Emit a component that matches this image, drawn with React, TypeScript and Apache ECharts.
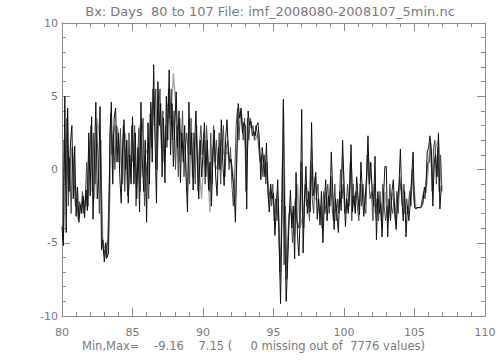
import React, { useEffect, useRef } from "react";
import * as echarts from "echarts";

const TITLE = "Bx: Days  80 to 107 File: imf_2008080-2008107_5min.nc";
const FOOTER = "Min,Max=    -9.16    7.15 (     0 missing out of  7776 values)";

const X_MIN = 80;
const X_MAX = 110;
const Y_MIN = -10;
const Y_MAX = 10;

// Black trace: samples every 0.1 day starting at day 80.0
const BLACK_START = 80.0;
const BLACK_STEP = 0.1;
const blackValues: number[] = [
  // 80
  -3.9, -5.2, 5.0, -4.3, 4.2, -1.5, 1.8, 3.0, -2.0, 1.6,
  // 81
  -3.2, -1.2, -3.6, -2.4, -3.0, -1.8, -3.3, -1.4, -2.8, 2.5,
  // 82
  -1.8, 3.6, -3.4, 0.5, 4.6, -2.0, -0.5, 4.3, -5.5, -4.8,
  // 83
  -6.3, -5.0, -6.0, -5.7, 2.3, 4.6, -1.0, 3.5, 4.2, 0.5,
  // 84
  2.5, -0.5, -2.3, 1.5, 3.4, 0.0, 2.0, -2.3, 1.0, -1.0,
  // 85
  3.6, -1.0, 2.5, -2.0, 1.5, -2.9, 4.6, 0.5, -1.5, 2.0,
  // 86
  -3.6, 3.2, -1.0, 4.6, 0.5, 7.15, 2.0, -2.3, 6.0, 3.0,
  // 87
  4.5, -0.5, 3.5, -0.9, 5.0, 2.0, 6.8, 1.0, 4.5, 0.2,
  // 88
  3.0, 5.3, 1.5, 4.0, -0.9, 2.5, 0.5, 3.0, -0.5, -2.9,
  // 89
  4.6, 1.0, 2.5, -1.4, 1.5, 4.0, 0.5, -2.0, 2.0, -0.5,
  // 90
  1.0, 3.2, -0.5, 2.0, -1.4, 0.5, -2.5, 1.0, 2.7, -0.5,
  // 91
  -1.8, 1.5, 0.0, 3.4, 0.5, -1.1, 2.0, 3.4, 1.2, 0.5,
  // 92
  0.7, -0.5, -1.4, -3.6, 1.0, 4.5, 3.5, 4.2, 2.5, 3.2,
  // 93
  3.0, -2.7, 4.0, 3.0, 3.3, 2.3, 2.6, 2.3, 3.0, 3.2,
  // 94
  2.0, -0.7, 1.5, 0.5, -0.5, 1.8, -1.5, -2.9, -1.0, -2.0,
  // 95
  -1.6, -4.5, -2.5, -0.7, -5.0, -9.16, -3.0, 4.8, -4.0, -9.0,
  // 96
  -6.5, -3.5, -1.4, -4.0, -2.5, -6.1, -0.2, -4.5, -5.9, -2.9,
  // 97
  4.1, -5.7, -2.0, 0.2, -3.0, -1.5, -2.9, 3.2, -1.8, -1.1,
  // 98
  -0.2, -3.4, -2.0, -3.8, -1.5, -5.0, -2.5, -0.7, -3.5, -1.8,
  // 99
  -2.5, 1.2, -1.5, -4.1, -2.0, -3.0, -4.3, -1.5, -2.8, 2.0,
  // 100
  -1.0, -3.9, -2.0, -3.0, -1.5, 1.7, -2.9, -1.8, -3.0, -0.5,
  // 101
  -2.0, -3.1, 0.5, -1.5, -3.2, -2.0, -0.5, 2.3, -1.0, 0.5,
  // 102
  -1.5, -2.5, 0.9, -4.8, -1.5, -3.0, -2.3, -4.6, -2.0, 0.2,
  // 103
  0.2, -4.6, -2.0, -3.5, -1.5, -0.7, -3.0, -4.1, -2.0, -1.0,
  // 104
  1.4, -2.0, -3.5, -1.5, -4.6, -2.5, -3.5, -2.3, -0.5, 1.2,
  // 105
  -2.6, -2.7, -2.6, -2.6, -2.6, -2.5, -2.3, -1.2, -1.6, 1.2,
  // 106
  1.5, 2.3, 1.2, -2.5, 0.5, 1.0, -0.5, 2.5, -2.7, -1.1,
];

// Dark-gray trace: samples every 0.1 day starting at day 80.05
const DARK_START = 80.05;
const DARK_STEP = 0.1;
const darkValues: number[] = [
  -4.8, 2.0, -1.0, 3.5, -2.5, 0.8, -3.0, 1.5, -0.5, -2.5,
  -2.0, -3.4, -2.2, -2.8, -1.5, -3.0, -2.0, 0.5, -2.5, 1.0,
  3.0, -1.5, 2.5, -1.0, 3.0, 1.0, -3.0, 2.0, -4.5, -5.8,
  -5.5, -6.1, -4.8, -1.0, 3.8, 1.0, 2.5, 0.0, 3.0, 2.8,
  0.5, 2.8, -1.0, 3.0, -1.5, 1.5, -1.8, 2.5, -0.5, 3.0,
  0.5, 3.0, -2.5, 0.5, 2.8, -1.5, 2.0, 3.5, -2.5, -0.5,
  0.5, -2.0, 3.8, 1.5, 5.5, 3.0, 5.5, 0.0, 4.0, 5.5,
  1.5, 4.0, 0.5, 3.0, 1.5, 5.5, 3.5, 5.5, 2.0, 4.0,
  0.0, 3.0, -0.5, 3.5, 1.5, 4.0, -0.5, 1.5, 2.5, 1.0,
  -1.0, 3.5, -0.5, 2.5, -1.0, 3.0, -1.5, 1.5, 3.0, 1.0,
  2.5, -1.0, 3.0, 1.0, -1.5, 2.5, -1.0, 3.0, 0.5, 2.0,
  0.0, 2.5, -1.0, 1.5, 3.0, -0.5, 1.5, 2.0, 0.0, 1.5,
  -1.0, -2.5, -0.5, 3.0, 4.2, 2.0, 3.8, 3.5, 2.0, 3.5,
  -1.5, 3.5, 2.0, 3.5, 2.8, 3.0, 2.0, 3.0, 2.5, 1.5,
  0.5, 1.0, -0.5, 1.0, -1.0, 0.5, -2.0, -1.5, -2.5, -1.0,
  -3.5, -2.0, -3.5, -2.0, -7.0, -5.0, 1.0, -6.5, -2.5, -7.5,
  -4.5, -2.5, -3.0, -5.0, -3.5, -2.0, -3.5, -4.0, -3.5, 0.5,
  -3.0, -4.0, -1.0, -2.5, -2.0, -3.5, 0.5, -2.0, -3.0, -0.5,
  -2.0, -1.0, -3.0, -2.5, -4.0, -1.5, -3.0, -2.0, -1.0, -3.0,
  -0.5, -2.5, -3.5, -1.0, -3.5, -2.0, -3.0, 0.0, -2.0, -1.0,
  -3.0, -2.5, -1.0, -2.5, 0.5, -3.5, -1.0, -2.5, -1.5, -2.5,
  -3.5, -1.0, -2.5, -1.0, -2.5, -3.0, 1.0, -0.5, -2.0, -1.5,
  -3.5, -1.0, -3.0, -2.0, -3.5, -1.5, -3.5, -1.0, -2.5, -3.5,
  -2.5, -3.5, -1.0, -2.5, -3.0, -2.0, -3.5, -1.5, -3.0, -0.5,
  -1.5, -2.5, -1.0, -3.0, -2.0, -3.0, -1.5, -2.5, 0.0, -2.0,
  -2.6, -2.6, -2.6, -2.6, -2.6, -2.0, -1.5, -2.0, -0.5, 0.5,
  0.5, 1.8, -1.5, 1.5, 2.0, -1.0, 1.5, -1.5, 1.0, -1.5,
];

// Light-gray trace: samples every 0.2 day starting at day 80.1
const GRAY_START = 80.1;
const GRAY_STEP = 0.2;
const grayValues: number[] = [
  -4.5, 0.5, -1.0, 1.5, -0.5,
  -2.5, -3.0, -2.0, -2.5, 1.0,
  2.5, -2.0, 3.5, 2.0, -5.0,
  -5.5, -4.5, 1.5, 3.0, 2.0,
  1.5, -1.0, 2.5, -1.5, 0.5,
  1.0, -1.0, 3.0, -0.5, 1.0,
  1.5, 3.5, 5.0, 0.5, 4.5,
  1.5, 1.0, 4.5, 3.0, 6.6,
  4.0, 0.5, 2.0, 1.5, -1.5,
  2.5, 0.0, 2.5, 0.5, -2.0,
  2.0, 0.5, -2.9, 1.5, 0.0,
  0.5, 2.0, 1.0, 1.2, 0.8,
  0.0, -2.0, 3.5, 4.0, 2.5,
  1.0, 3.0, 2.8, 2.0, 2.5,
  0.5, 1.0, -0.5, -1.5, -2.0,
  -3.0, -1.5, -7.5, 4.3, -7.0,
  -3.0, -3.0, -4.5, -1.0, -4.0,
  -3.0, -1.0, -2.0, 1.5, -2.0,
  -2.0, -3.0, -3.5, -1.5, -2.5,
  -0.5, -3.0, -2.5, -2.0, 1.0,
  -3.0, -2.5, 0.5, -2.0, -1.5,
  -2.5, -1.0, -2.5, 1.0, -0.5,
  -2.0, -3.5, -2.0, -3.5, -1.5,
  -3.5, -2.5, -1.5, -3.5, -1.5,
  -1.0, -3.0, -3.0, -1.5, -0.5,
  -2.6, -2.6, -2.6, -1.5, -0.9,
  1.8, -1.0, 1.5, 2.0, -1.5,
];

const AXIS_COLOR = "#8c8c8c";
const TEXT_COLOR = "#7a7a7a";
const FONT = "DejaVu Sans";

function toPairs(start: number, step: number, vals: number[]) {
  return vals.map((v, i) => [+(start + i * step).toFixed(3), v]);
}

export default function App() {
  const ref = useRef<HTMLDivElement>(null);
  useEffect(() => {
    if (!ref.current) return;
    const chart = echarts.init(ref.current, undefined, { renderer: "svg" });
    const tickCommon = {
      axisLine: { show: true, onZero: false, lineStyle: { color: AXIS_COLOR, width: 1 } },
      axisTick: { show: true, inside: true, length: 8, lineStyle: { color: AXIS_COLOR } },
      minorTick: { show: true, splitNumber: 5, length: 4, lineStyle: { color: AXIS_COLOR } },
      splitLine: { show: false },
      minorSplitLine: { show: false },
    };
    chart.setOption({
      animation: false,
      backgroundColor: "#ffffff",
      grid: { left: 62, right: 19, top: 23, bottom: 44, containLabel: false },
      xAxis: [
        {
          type: "value",
          min: X_MIN,
          max: X_MAX,
          interval: 5,
          position: "bottom",
          ...tickCommon,
          axisLabel: { color: TEXT_COLOR, fontSize: 11, fontFamily: FONT, margin: 11 },
        },
        {
          type: "value",
          min: X_MIN,
          max: X_MAX,
          interval: 5,
          position: "top",
          ...tickCommon,
          axisLabel: { show: false },
        },
      ],
      yAxis: [
        {
          type: "value",
          min: Y_MIN,
          max: Y_MAX,
          interval: 5,
          position: "left",
          ...tickCommon,
          axisLabel: { color: TEXT_COLOR, fontSize: 11, fontFamily: FONT, margin: 4 },
        },
        {
          type: "value",
          min: Y_MIN,
          max: Y_MAX,
          interval: 5,
          position: "right",
          ...tickCommon,
          axisLabel: { show: false },
        },
      ],
      series: [
        {
          type: "line",
          name: "gray",
          data: toPairs(GRAY_START, GRAY_STEP, grayValues),
          showSymbol: false,
          lineStyle: { color: "#a8a8a8", width: 1.4 },
          silent: true,
        },
        {
          type: "line",
          name: "dark",
          data: toPairs(DARK_START, DARK_STEP, darkValues),
          showSymbol: false,
          lineStyle: { color: "#4a4a4a", width: 1 },
          silent: true,
        },
        {
          type: "line",
          name: "Bx",
          data: toPairs(BLACK_START, BLACK_STEP, blackValues),
          showSymbol: false,
          lineStyle: { color: "#111111", width: 1 },
          silent: true,
        },
      ],
      graphic: [
        {
          type: "text",
          x: 270,
          y: 11,
          style: {
            text: TITLE,
            fill: TEXT_COLOR,
            font: `13px ${FONT}`,
            align: "center",
            verticalAlign: "middle",
          },
        },
        {
          type: "text",
          x: 82,
          y: 346,
          style: {
            text: FOOTER,
            fill: TEXT_COLOR,
            font: `11.5px ${FONT}`,
            align: "left",
            verticalAlign: "middle",
          },
        },
      ],
    });
    return () => chart.dispose();
  }, []);
  return (
    <div
      ref={ref}
      style={{ position: "fixed", left: 0, top: 0, width: 504, height: 360, background: "#fff" }}
    />
  );
}
